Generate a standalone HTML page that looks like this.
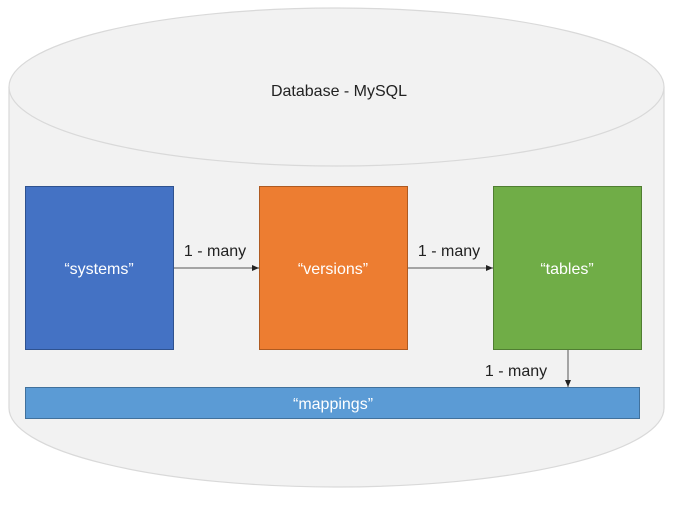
<!DOCTYPE html>
<html><head><meta charset="utf-8"><style>
html,body{margin:0;padding:0;background:#fff;}
svg{display:block;font-family:"Liberation Sans",sans-serif;}
</style></head><body>
<svg width="678" height="507" viewBox="0 0 678 507">
<defs><marker id="a" markerWidth="8" markerHeight="8" refX="7" refY="4" orient="auto" markerUnits="userSpaceOnUse"><path d="M0,1 L7,4 L0,7 Z" fill="#222"/></marker></defs>
<path d="M9,87 L9,408 A327.5,79 0 0 0 664,408 L664,87" fill="#f2f2f2" stroke="#d9d9d9" stroke-width="1.2"/>
<ellipse cx="336.5" cy="87" rx="327.5" ry="79" fill="#f2f2f2" stroke="#d9d9d9" stroke-width="1.2"/>
<text x="339" y="96" font-size="16" fill="#222" text-anchor="middle">Database - MySQL</text>
<rect x="25.5" y="186.5" width="148" height="163" fill="#4472c4" stroke="#2f528f"/>
<rect x="259.5" y="186.5" width="148" height="163" fill="#ed7d31" stroke="#ae5a21"/>
<rect x="493.5" y="186.5" width="148" height="163" fill="#70ad47" stroke="#507e32"/>
<rect x="25.5" y="387.5" width="614" height="31" fill="#5b9bd5" stroke="#41719c"/>
<text x="99" y="274" font-size="16" fill="#fff" text-anchor="middle">“systems”</text>
<text x="333" y="274" font-size="16" fill="#fff" text-anchor="middle">“versions”</text>
<text x="567" y="274" font-size="16" fill="#fff" text-anchor="middle">“tables”</text>
<text x="333" y="409" font-size="16" fill="#fff" text-anchor="middle">“mappings”</text>
<line x1="174" y1="268" x2="259" y2="268" stroke="#555" marker-end="url(#a)"/>
<line x1="408" y1="268" x2="493" y2="268" stroke="#555" marker-end="url(#a)"/>
<line x1="568" y1="350" x2="568" y2="387" stroke="#555" marker-end="url(#a)"/>
<text x="215" y="256" font-size="16" fill="#222" text-anchor="middle">1 - many</text>
<text x="449" y="256" font-size="16" fill="#222" text-anchor="middle">1 - many</text>
<text x="516" y="376" font-size="16" fill="#222" text-anchor="middle">1 - many</text>
</svg>
</body></html>
